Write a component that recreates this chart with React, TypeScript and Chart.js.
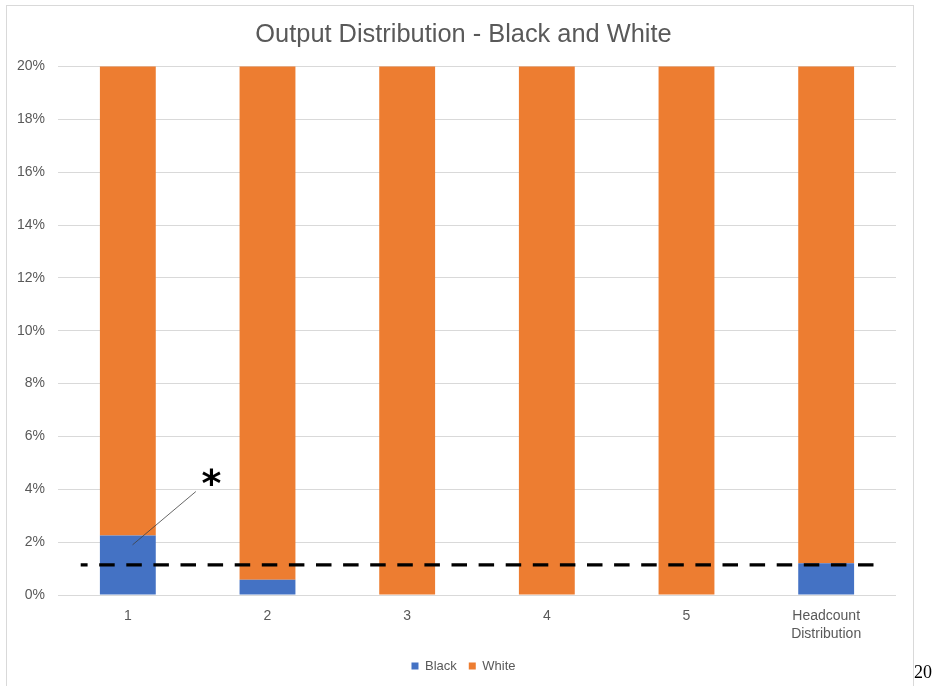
import React, { useEffect, useRef } from "react";
import { Chart, registerables } from "chart.js";

Chart.register(...registerables);

const categories: (string | string[])[] = ["1", "2", "3", "4", "5", ["Headcount", "Distribution"]];
const seriesNames = ["Black", "White"];
const blackValues = [2.25, 0.58, 0, 0, 0, 1.2];
const whiteValues = [97.75, 99.42, 100, 100, 100, 98.8];
const yMin = 0;
const yMax = 20;
const yStep = 2;
const thresholdValue = 1.14;
const annotationIndex = 0;
const annotationText = "*";
const titleText = "Output Distribution - Black and White";
const pageNumber = "20";

const FONT = "'Liberation Sans', Arial, sans-serif";
const TEXT = "#595959";

const overlayPlugin = {
  id: "overlay",
  afterDatasetsDraw(chart: any) {
    const { ctx, chartArea, scales } = chart;
    const y = scales.y;
    const yy = y.getPixelForValue(thresholdValue);
    ctx.save();
    ctx.setLineDash([15.5, 11.6]);
    ctx.lineDashOffset = 8.6;
    ctx.lineWidth = 3.4;
    ctx.strokeStyle = "#000000";
    ctx.beginPath();
    ctx.moveTo(chartArea.left + 22.7, yy);
    ctx.lineTo(chartArea.right - 13.3, yy);
    ctx.stroke();
    ctx.setLineDash([]);
    const bar = chart.getDatasetMeta(0).data[annotationIndex];
    if (bar) {
      const bx = bar.x;
      const by = bar.y;
      ctx.lineWidth = 0.8;
      ctx.strokeStyle = "#404040";
      ctx.beginPath();
      ctx.moveTo(bx + 4.7, by + 9.3);
      ctx.lineTo(bx + 68, by - 44);
      ctx.stroke();
      ctx.fillStyle = "#000000";
      ctx.font = "bold 38px 'DejaVu Sans', sans-serif";
      ctx.textAlign = "center";
      ctx.textBaseline = "middle";
      ctx.fillText(annotationText, bx + 83.7, by - 49);
    }
    ctx.restore();
  },
};

export default function App() {
  const ref = useRef<HTMLCanvasElement | null>(null);
  useEffect(() => {
    if (!ref.current) return;
    const chart = new Chart(ref.current, {
      type: "bar",
      data: {
        labels: categories as any,
        datasets: [
          {
            label: seriesNames[0],
            data: blackValues,
            backgroundColor: "#4472C4",
            barPercentage: 0.4,
            categoryPercentage: 1,
          },
          {
            label: seriesNames[1],
            data: whiteValues,
            backgroundColor: "#ED7D31",
            barPercentage: 0.4,
            categoryPercentage: 1,
          },
        ],
      },
      options: {
        animation: false,
        responsive: false,
        maintainAspectRatio: false,
        layout: { padding: { left: 8, right: 17, top: 0, bottom: 3.5 } },
        plugins: {
          title: {
            display: true,
            text: titleText,
            color: TEXT,
            font: { family: FONT, size: 25.4, weight: "normal", lineHeight: 1.2 },
            padding: { top: 20, bottom: 16 },
          },
          legend: {
            position: "bottom",
            labels: {
              boxWidth: 7,
              boxHeight: 7,
              padding: 12,
              color: TEXT,
              font: { family: FONT, size: 13 },
            },
          },
          tooltip: { enabled: false },
        },
        scales: {
          x: {
            stacked: true,
            grid: { display: false },
            border: { display: false },
            ticks: {
              color: TEXT,
              padding: 4,
              font: { family: FONT, size: 14, lineHeight: 1.3 },
              maxRotation: 0,
            },
            afterFit: (scale: any) => {
              scale.height = 52.5;
            },
          },
          y: {
            stacked: true,
            min: yMin,
            max: yMax,
            grid: { color: "#d9d9d9", lineWidth: 1, drawTicks: false },
            border: { display: false },
            ticks: {
              stepSize: yStep,
              color: TEXT,
              padding: 13,
              font: { family: FONT, size: 14 },
              callback: (v: any) => `${v}%`,
            },
            afterFit: (scale: any) => {
              scale.width = 50;
            },
          },
          yRight: {
            position: "right",
            display: true,
            min: 0,
            max: 1,
            grid: { display: false, drawOnChartArea: false },
            border: { display: false },
            ticks: { display: false },
            afterFit: (scale: any) => {
              scale.width = 23;
            },
          },
        },
      },
      plugins: [overlayPlugin],
    });
    return () => chart.destroy();
  }, []);

  return (
    <div style={{ position: "absolute", left: 0, top: 0, width: 936, height: 686, overflow: "hidden", background: "#fff" }}>
      <div
        style={{
          position: "absolute",
          left: 6,
          top: 5,
          width: 906,
          height: 720,
          border: "1.5px solid #d9d9d9",
        }}
      />
      <canvas ref={ref} width={936} height={686} style={{ position: "absolute", left: 0, top: 0 }} />
      <div
        style={{
          position: "absolute",
          left: 914,
          top: 662,
          fontFamily: "'Liberation Serif', 'Times New Roman', serif",
          fontSize: 18,
          lineHeight: "normal",
          color: "#000",
        }}
      >
        {pageNumber}
      </div>
    </div>
  );
}
